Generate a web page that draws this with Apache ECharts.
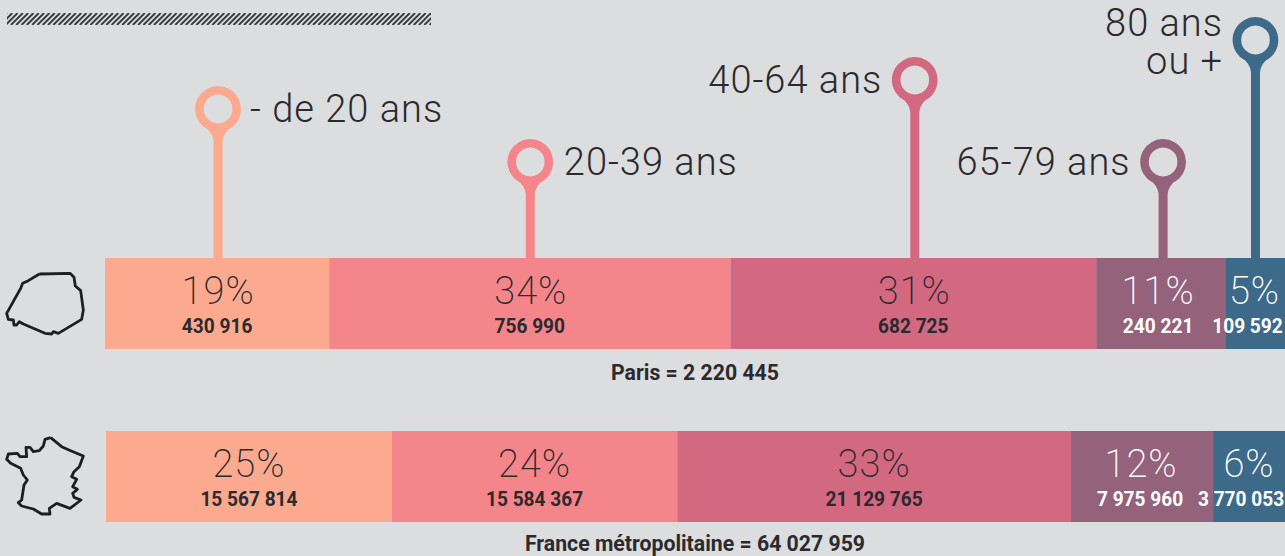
<!DOCTYPE html>
<html><head><meta charset="utf-8">
<style>html,body{margin:0;padding:0;background:#dcdddf}#c{width:1285px;height:556px}
#c svg text[style*="300"],#c svg text[style*="200"]{letter-spacing:1px}</style>
<script src="https://cdn.jsdelivr.net/npm/echarts@6/dist/echarts.min.js"></script></head>
<body><div id="c"></div>
<script>
const ageGroups = ['- de 20 ans', '20-39 ans', '40-64 ans', '65-79 ans', '80 ans\nou +'];
const parisShare = [19, 34, 31, 11, 5];
const franceShare = [24.25, 24.2, 33.4, 12.05, 6.1];
const parisPctLabels = ['19%', '34%', '31%', '11%', '5%'];
const francePctLabels = ['25%', '24%', '33%', '12%', '6%'];
const parisCounts = ['430 916', '756 990', '682 725', '240 221', '109 592'];
const franceCounts = ['15 567 814', '15 584 367', '21 129 765', '7 975 960', '3 770 053'];
const parisTotal = 'Paris = 2 220 445';
const franceTotal = 'France métropolitaine = 64 027 959';
const colors = ['#fbaa8f', '#f4868b', '#d36881', '#95627c', '#3e6a8a'];

const INK = '#2b2a2e';
const BG = '#dcdddf';
const LIGHT = 'Roboto';
const BOLD = 'Roboto';
const layout = {
  pinTop: [109, 162, 80, 162, 40],
  pinShift: [1, 0.5, 1.5, 2, 0],
  countShift: {paris: [0, 0, 0, -3, -8], france: [0, 0, 0, -2, -8]},
  pctShift: {paris: [1, 1, 1, -3, -1], france: [0, 0, 0, -1, 0]}
};

function cum(a, i) { let s = 0; for (let k = 0; k < i; k++) s += a[k]; return s; }

function barSeries(share, pct, shift, idx) {
  return share.map((v, i) => ({
    type: 'bar', stack: 's' + idx, xAxisIndex: idx, yAxisIndex: idx, barWidth: '100%',
    itemStyle: {color: colors[i]}, silent: true,
    data: [v],
    label: {show: true, position: 'inside', formatter: pct[i], offset: [shift[i], -13],
      fontFamily: LIGHT, fontWeight: 200, fontSize: 38, color: i >= 3 ? '#fff' : INK}
  }));
}
function countSeries(share, counts, shift, idx) {
  return {
    type: 'custom', xAxisIndex: idx, yAxisIndex: idx, silent: true, z: 5,
    data: share.map((v, i) => [cum(share, i) + v / 2, i]),
    renderItem(p, api) {
      const i = api.value(1);
      const c = api.coord([api.value(0), 0]);
      return {type: 'text', x: c[0] + shift[i], y: c[1] + 22.5, scaleX: 0.91, style: {
        text: counts[i], fontFamily: BOLD, fontWeight: 700, fontSize: 21,
        fill: i >= 3 ? '#fff' : INK, align: 'center', verticalAlign: 'middle'}};
    }
  };
}
function pinSeries() {
  return {
    type: 'custom', xAxisIndex: 0, yAxisIndex: 0, silent: true, z: 1,
    data: parisShare.map((v, i) => [cum(parisShare, i) + v / 2, i]),
    renderItem(p, api) {
      const i = api.value(1);
      const base = api.coord([api.value(0), 0]);
      const x = base[0] + layout.pinShift[i], cy = layout.pinTop[i], top = 258;
      const col = colors[i];
      const labelRightOfPin = i < 2;
      const lx = labelRightOfPin ? (i === 0 ? x + 32 : x + 33.5) : x - 32.5;
      const twoLines = i === 4;
      return {type: 'group', children: [
        {type: 'path', shape: {pathData:
          `M ${x-4.5} ${top} L ${x-4.5} ${cy+32} Q ${x-5} ${cy+24} ${x-15} ${cy+16} L ${x+15} ${cy+16} Q ${x+5} ${cy+24} ${x+4.5} ${cy+32} L ${x+4.5} ${top} Z`},
          style: {fill: col}},
        {type: 'circle', shape: {cx: x, cy: cy, r: 18.6}, style: {fill: BG, stroke: col, lineWidth: 8.6}},
        {type: 'text', x: lx, y: twoLines ? 42 : cy, style: {
          text: ageGroups[i], fontFamily: LIGHT, fontWeight: 300, fontSize: 38, lineHeight: 38,
          fill: INK, align: labelRightOfPin ? 'left' : 'right', verticalAlign: 'middle'}}
      ]};
    }
  };
}

const parisOutline = [[118,72],[210,70],[222,82],[226,108],[242,122],[250,180],[245,208],[175,250],[160,245],[155,252],[135,250],[70,222],[58,215],[50,225],[42,225],[40,210],[25,208],[20,190],[62,115],[68,100],[85,92],[118,72]].map(p => [p[0]/3, 250 + p[1]/3]);
const franceOutline = [[152,53],[135,58],[130,78],[118,92],[100,95],[90,82],[78,82],[80,110],[60,110],[52,100],[25,102],[20,118],[32,130],[62,145],[70,165],[82,180],[72,195],[65,240],[55,248],[65,258],[100,267],[125,282],[150,282],[148,265],[170,250],[210,265],[243,240],[222,232],[218,220],[232,208],[218,200],[230,178],[215,170],[222,155],[238,140],[250,108],[212,92],[185,80],[152,53]].map(p => [p[0]/3, 420 + p[1]/3]);

function outline(pts) {
  return {type: 'polyline', silent: true, shape: {points: pts}, style: {fill: 'none', stroke: '#1f1e21', lineWidth: 2.8, lineJoin: 'round'}};
}
function totalText(text, y) {
  return {type: 'text', silent: true, x: 695, y: y, scaleX: 0.945, style: {text: text, fontFamily: BOLD, fontWeight: 700, fontSize: 22.5, lineHeight: 22,
    fill: INK, align: 'center', verticalAlign: 'middle'}};
}
const hatch = [];
for (let x = 7 - 12; x < 431; x += 5.3) {
  hatch.push({type: 'line', shape: {x1: x, y1: 25, x2: x + 12, y2: 13}, style: {stroke: '#3a393c', lineWidth: 1.9}});
}

const chart = echarts.init(document.getElementById('c'), null, {renderer: 'svg'});
const hiddenX = (g) => ({type: 'value', gridIndex: g, min: 0, max: 100, show: false});
const hiddenY = (g, n) => ({type: 'category', gridIndex: g, data: [n], show: false});
chart.setOption({
  animation: false,
  backgroundColor: BG,
  grid: [
    {left: 105, top: 258, width: 1180, height: 91},
    {left: 106, top: 431, width: 1179, height: 91}
  ],
  xAxis: [hiddenX(0), hiddenX(1)],
  yAxis: [hiddenY(0, 'Paris'), hiddenY(1, 'France')],
  graphic: [
    {type: 'group', silent: true, clipPath: {type: 'rect', shape: {x: 7, y: 13, width: 424, height: 12}}, children: hatch},
    outline(parisOutline),
    outline(franceOutline),
    totalText(parisTotal, 372),
    totalText(franceTotal, 543.5)
  ],
  series: [
    pinSeries(),
    ...barSeries(parisShare, parisPctLabels, layout.pctShift.paris, 0),
    ...barSeries(franceShare, francePctLabels, layout.pctShift.france, 1),
    countSeries(parisShare, parisCounts, layout.countShift.paris, 0),
    countSeries(franceShare, franceCounts, layout.countShift.france, 1)
  ]
});
</script></body></html>
